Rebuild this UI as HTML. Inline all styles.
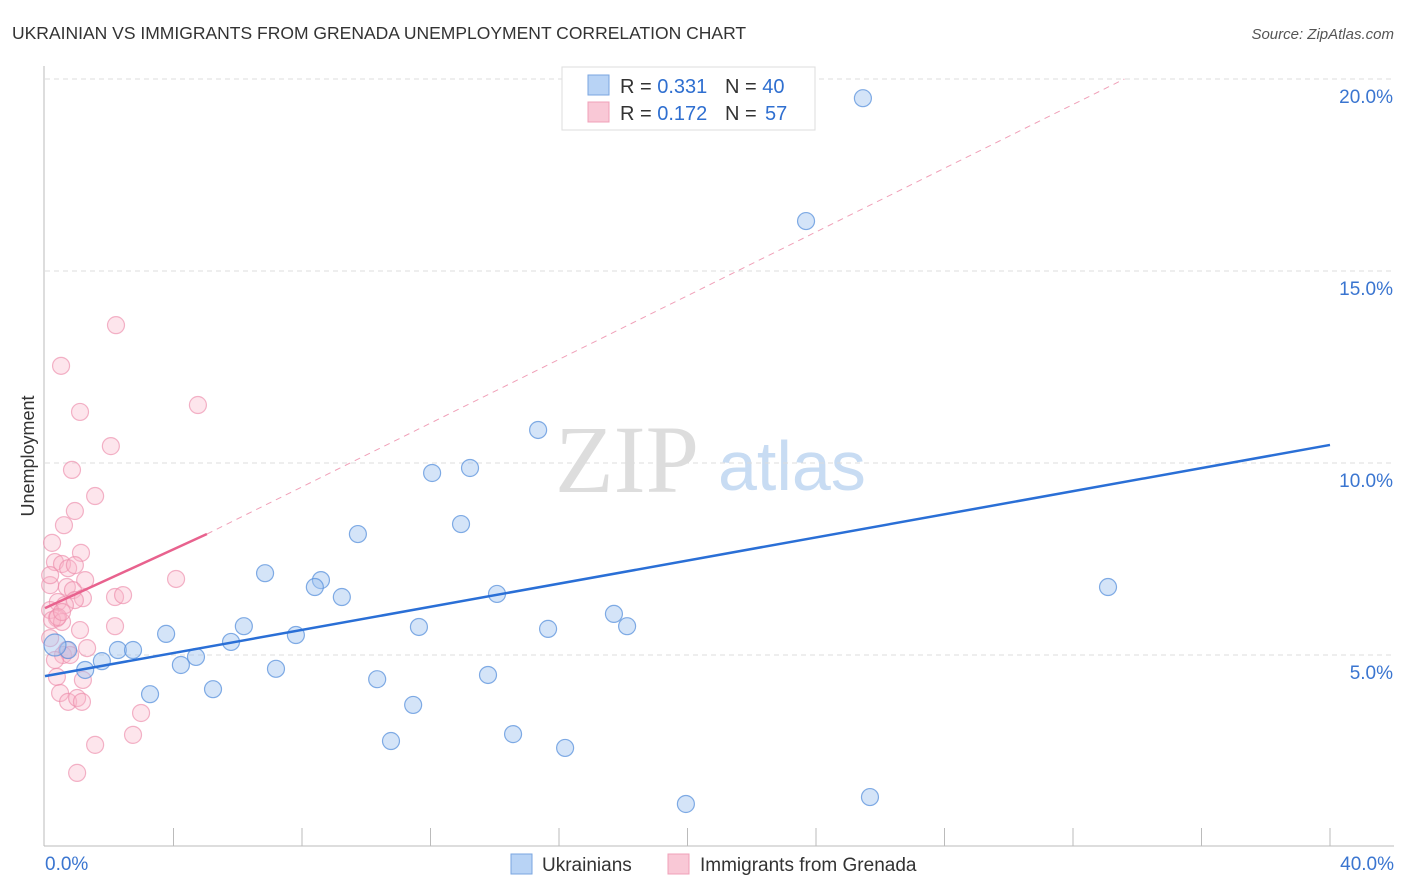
<!DOCTYPE html>
<html><head><meta charset="utf-8"><style>
body{margin:0;background:#fff;font-family:"Liberation Sans",sans-serif;}
#wrap{position:relative;width:1406px;height:892px;overflow:hidden;}
</style></head><body>
<div id="wrap">
<svg id="svg" width="1406" height="892" xmlns="http://www.w3.org/2000/svg">
<text x="12" y="39" font-size="17.5" fill="#333">UKRAINIAN VS IMMIGRANTS FROM GRENADA UNEMPLOYMENT CORRELATION CHART</text>
<text x="1394" y="39" font-size="15" fill="#555" font-style="italic" text-anchor="end">Source: ZipAtlas.com</text>
<text x="34" y="456" font-size="18" fill="#333" text-anchor="middle" transform="rotate(-90 34 456)">Unemployment</text>
<text x="555" y="492" font-size="96" fill="#ddd" font-family="Liberation Serif,serif">ZIP</text>
<text x="718" y="490" font-size="70" fill="#c8dcf3">atlas</text>
<g id="grid"></g><g id="marks"></g>
<g>
<rect x="562" y="67" width="253" height="63" fill="#fff" stroke="#ddd"/>
<rect x="588" y="75" width="21" height="20" fill="#b8d3f5" stroke="#7aa6e0"/>
<rect x="588" y="102" width="21" height="20" fill="#f9c8d6" stroke="#f0a0b8"/>
<text x="620" y="93" font-size="20" fill="#333">R = <tspan fill="#2f6fd0">0.331</tspan><tspan x="725">N = </tspan><tspan fill="#2f6fd0">40</tspan></text>
<text x="620" y="120" font-size="20" fill="#333">R = <tspan fill="#2f6fd0">0.172</tspan><tspan x="725">N = </tspan><tspan x="765" fill="#2f6fd0">57</tspan></text>
</g>
<g>
<rect x="511" y="854" width="21" height="20" fill="#b8d3f5" stroke="#7aa6e0"/>
<text x="542" y="871" font-size="19" fill="#333">Ukrainians</text>
<rect x="668" y="854" width="21" height="20" fill="#f9c8d6" stroke="#f0a0b8"/>
<text x="700" y="871" font-size="19" fill="#333">Immigrants from Grenada</text>
</g>
</svg></div>
<script>
const blueX=[25.46,23.69,15.35,13.23,12.05,12.95,9.74,6.85,8.59,8.40,9.24,14.07,33.09,17.71,18.12,15.66,11.64,6.19,3.77,7.81,5.79,2.27,2.74,0.72,0.31,4.70,4.23,1.77,1.25,7.19,10.34,13.79,3.27,5.23,11.46,10.77,14.57,16.19,19.95,25.68];
const blueY=[19.5,16.3,10.86,9.87,9.74,8.41,8.15,7.13,6.95,6.77,6.51,6.59,6.77,6.07,5.75,5.68,5.73,5.75,5.55,5.52,5.34,5.13,5.13,5.13,5.26,4.95,4.74,4.84,4.61,4.64,4.37,4.48,3.98,4.11,3.70,2.76,2.94,2.58,1.12,1.30];
const pinkX=[2.21,0.50,1.09,4.76,2.05,0.84,1.56,0.93,0.59,0.22,1.12,0.31,0.53,0.72,1.25,4.08,0.16,0.68,0.87,2.18,2.43,1.18,0.93,0.40,0.62,0.16,0.37,0.22,0.53,1.09,2.18,0.16,1.31,0.68,0.56,0.37,1.18,0.47,0.72,1.00,1.15,2.99,2.74,1.56,1.00,0.40,0.93,0.16,0.53,0.78,0.31];
const pinkY=[13.59,12.53,11.33,11.51,10.44,9.82,9.14,8.75,8.38,7.92,7.66,7.42,7.37,7.26,6.95,6.98,6.82,6.77,6.69,6.51,6.56,6.48,6.43,6.38,6.30,6.17,5.96,5.91,5.86,5.65,5.75,5.44,5.18,5.13,5.00,4.43,4.35,4.01,3.78,3.88,3.78,3.49,2.92,2.66,1.93,5.99,7.34,7.08,6.12,5.00,4.87];
const blueLine=[4.45,10.47];
const pinkLine=[6.22,8.15];
const pinkLineEnd=5.04;
const pinkDashEnd=[33.6,20];
const yTicks=[5,10,15,20];
const yTickLabels=["5.0%","10.0%","15.0%","20.0%"];
const xEndLabels=["0.0%","40.0%"];
const NS="http://www.w3.org/2000/svg";
const sx=v=>45+v/40*1285, sy=v=>847-v/20*768;
function mk(tag,attrs,parent){const e=document.createElementNS(NS,tag);for(const k in attrs)e.setAttribute(k,attrs[k]);parent.appendChild(e);return e;}
const grid=document.getElementById('grid'),marks=document.getElementById('marks');
yTicks.forEach((t,i)=>{
 const l=mk('line',{x1:45,x2:1394,y1:sy(t),y2:sy(t),stroke:'#ddd','stroke-dasharray':'5,4'},grid);
 
 
 const tx=mk('text',{x:1393,y:sy(t)+24,'font-size':19,fill:'#3a75d0','text-anchor':'end'},grid);
 tx.textContent=yTickLabels[i];
 
 
});
const ax=mk('line',{x1:44,x2:44,y1:66,y2:846,stroke:'#bbb'},grid);


const bx=mk('line',{x1:44,x2:1394,y1:846,y2:846,stroke:'#bbb'},grid);


for(let i=1;i<=10;i++){const t=mk('line',{x1:sx(i*4),x2:sx(i*4),y1:828,y2:846,stroke:'#bbb'},grid);
 
 }
const xl0=mk('text',{x:45,y:870,'font-size':19,fill:'#3a75d0'},grid);xl0.textContent=xEndLabels[0];


const xl1=mk('text',{x:1394,y:870,'font-size':19,fill:'#3a75d0','text-anchor':'end'},grid);xl1.textContent=xEndLabels[1];


pinkX.forEach((x,i)=>{const c=mk('circle',{cx:sx(x),cy:sy(pinkY[i]),r:8.5,fill:'rgba(248,180,200,0.35)',stroke:'rgba(236,140,170,0.65)','stroke-width':1.2},marks);
 
 });
blueX.forEach((x,i)=>{const c=mk('circle',{cx:sx(x),cy:sy(blueY[i]),r:i==24?11:8.5,fill:'rgba(160,196,240,0.45)',stroke:'rgba(90,145,220,0.75)','stroke-width':1.2},marks);
 
 });
const pd=mk('line',{x1:sx(pinkLineEnd),y1:sy(pinkLine[1]),x2:sx(pinkDashEnd[0]),y2:sy(pinkDashEnd[1]),stroke:'#f0a0b8','stroke-dasharray':'6,5','stroke-width':1},marks);


const pl=mk('line',{x1:sx(0),y1:sy(pinkLine[0]),x2:sx(pinkLineEnd),y2:sy(pinkLine[1]),stroke:'#e8628e','stroke-width':2.5},marks);


const bl=mk('line',{x1:sx(0),y1:sy(blueLine[0]),x2:sx(40),y2:sy(blueLine[1]),stroke:'#2a6fd6','stroke-width':2.5},marks);


</script></body></html>
